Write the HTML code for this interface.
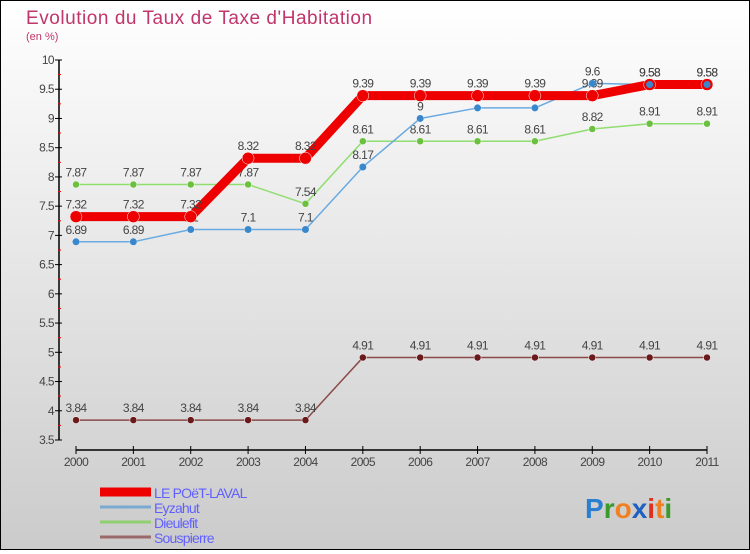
<!DOCTYPE html>
<html><head><meta charset="utf-8"><style>
html,body{margin:0;padding:0}
body{width:750px;height:550px;overflow:hidden;font-family:"Liberation Sans",sans-serif}
#wrap{position:relative;width:748px;height:548px;border:1px solid #000;background:linear-gradient(#ffffff,#cbcbcb)}
</style></head><body>
<div id="wrap">
<svg id="chart" width="748" height="548" viewBox="1 1 748 548">
<text x="26" y="24" font-size="19" fill="#c0356a" letter-spacing="0.9" textLength="347">Evolution du Taux de Taxe d'Habitation</text>
<text x="26" y="40" font-size="11" fill="#c0356a">(en %)</text>
<g id="axes"></g>
<g id="series"></g>
<g id="legend"></g>
<text x="585" y="518" font-size="28" font-weight="bold"><tspan fill="#2a7fd0">P</tspan><tspan fill="#3a9a2a">r</tspan><tspan fill="#f08020">o</tspan><tspan fill="#2060c0">x</tspan><tspan fill="#e03020">i</tspan><tspan fill="#f08020">t</tspan><tspan fill="#3a9a2a">i</tspan></text>
</svg>
</div>
<script>
const years = [2000,2001,2002,2003,2004,2005,2006,2007,2008,2009,2010,2011];
const yTicks = [3.5,4,4.5,5,5.5,6,6.5,7,7.5,8,8.5,9,9.5,10];
const poet = [7.32,7.32,7.32,8.32,8.32,9.39,9.39,9.39,9.39,9.39,9.58,9.58];
const eyzahut = [6.89,6.89,7.1,7.1,7.1,8.17,9,9.18,9.18,9.6,9.58,9.58];
const dieulefit = [7.87,7.87,7.87,7.87,7.54,8.61,8.61,8.61,8.61,8.82,8.91,8.91];
const souspierre = [3.84,3.84,3.84,3.84,3.84,4.91,4.91,4.91,4.91,4.91,4.91,4.91];
const seriesNames = ["LE POëT-LAVAL","Eyzahut","Dieulefit","Souspierre"];

const NS="http://www.w3.org/2000/svg";
const xS=i=>76+i*(707-76)/11;
const yS=v=>60+(10-v)*58.46;
function mk(tag,attrs,parent){const e=document.createElementNS(NS,tag);for(const k in attrs)e.setAttribute(k,attrs[k]);parent.appendChild(e);return e;}
const axes=document.getElementById('axes'),sg=document.getElementById('series'),lg=document.getElementById('legend');

let yl=mk('line',{x1:59,y1:yS(10),x2:59,y2:yS(3.5),stroke:'#000','stroke-width':1.5},axes);


yTicks.forEach(v=>{
  mk('line',{x1:55,y1:yS(v),x2:62,y2:yS(v),stroke:'#000'},axes);
  if(v<10) mk('line',{x1:58,y1:yS(v+0.25),x2:61,y2:yS(v+0.25),stroke:'#e00'},axes);
  const t=mk('text',{x:54,y:yS(v)+4,'font-size':12,fill:'#444','text-anchor':'end','letter-spacing':'-0.6'},axes);
  t.textContent=String(v);
  
  
});
let xl=mk('line',{x1:76,y1:450,x2:707,y2:450,stroke:'#000','stroke-width':1.5},axes);


years.forEach((y,i)=>{
  mk('line',{x1:xS(i),y1:446,x2:xS(i),y2:454,stroke:'#000'},axes);
  const t=mk('text',{x:xS(i),y:466,'font-size':12,fill:'#444','text-anchor':'middle','letter-spacing':'-0.6'},axes);
  t.textContent=String(y);
  
  
});

function draw(vals,color,w,r,dot,name){
  const g=mk('g',{},sg);
  
  
  const pts=vals.map((v,i)=>xS(i)+','+yS(v)).join(' ');
  const pl=mk('polyline',{points:pts,fill:'none',stroke:color,'stroke-width':w,'stroke-linejoin':'round'},g);
  
  
  vals.forEach((v,i)=>{
    const c=mk('circle',{cx:xS(i),cy:yS(v),r:r,fill:dot,stroke:'#fff','stroke-width':0.5},g);
    
    
    const t=mk('text',{x:xS(i),y:yS(v)-8,'font-size':12,fill:'#444','text-anchor':'middle','letter-spacing':'-0.6'},g);
    t.textContent=String(v);
    
    
  });
}
draw(souspierre,'#8b4a4a',1.5,3.5,'#6a1a1a','souspierre-series');
draw(dieulefit,'#90dd70',1.5,3.5,'#6cc040','dieulefit-series');
draw(eyzahut,'#6aaae0',1.5,3.5,'#3a88cc','eyzahut-series');
draw(poet,'#ee0000',9,6,'#ee0000','poet-laval-series');
eyzahut.forEach((v,i)=>{const c=mk('circle',{cx:xS(i),cy:yS(v),r:3.5,fill:'#3a88cc'},sg);

});

const lc=['#ee0000','#7aaad0','#90d070','#9a6a6a'];
seriesNames.forEach((n,i)=>{
  const y=492+i*15;
  const g=mk('g',{},lg);
  
  
  mk('line',{x1:100,y1:y,x2:151,y2:y,stroke:lc[i],'stroke-width':i===0?9:3},g);
  const t=mk('text',{x:154,y:y+6,'font-size':14,fill:'#6060ff','letter-spacing':'-0.8'},g);
  t.textContent=n;
  
  
});
</script>
</body></html>
